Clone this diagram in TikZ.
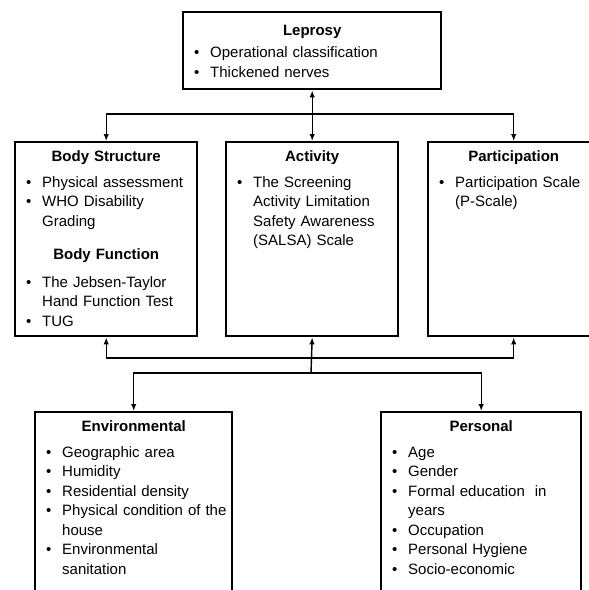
\documentclass[tikz,border=0pt]{standalone}
\usepackage{fontspec}
\setmainfont{Liberation Sans}
\usetikzlibrary{arrows.meta, positioning, calc}
\tikzset{
>={Latex[length=7pt,width=5.5pt]},
frame/.style={%
    rectangle,
    draw=black,
    line width=2.4pt,
    inner sep=0pt,
    anchor=north west
},
txt/.style={%
    anchor=north,
    inner sep=0pt,
    align=left,
    font=\fontsize{15}{19.5}\selectfont
},
link/.style={line width=1.4pt, draw=black},
}
\newcommand{\hd}[2][6.5pt]{\par{\centering\bfseries #2\par}\vspace{#1}}
\newcommand{\bul}[1]{\par\noindent\hangindent=16pt\hangafter=1\makebox[16pt][l]{\textbullet}#1\par}

\begin{document}
\begin{tikzpicture}[x=1pt, y=-1pt]
\useasboundingbox (0,0) rectangle (589,590);

% boxes
\node[frame, minimum width=258pt, minimum height=77pt] (lep) at (182,11) {};
\node[frame, minimum width=182pt, minimum height=194pt] (bs) at (14,141) {};
\node[frame, minimum width=172pt, minimum height=194pt] (act) at (225,141) {};
\node[frame, minimum width=171pt, minimum height=194pt] (part) at (427,141) {};
\node[frame, minimum width=197pt, minimum height=220pt] (env) at (34,411) {};
\node[frame, minimum width=200pt, minimum height=220pt] (pers) at (380,411) {};

% texts
\node[txt, text width=236pt] (lepT) at ([yshift=-4.8pt]lep.north)
    {\hd[2.5pt]{Leprosy}\bul{Operational classification}\bul{Thickened nerves}};
\node[txt, text width=160pt] (bsT) at ([yshift=-0.3pt]bs.north)
    {\hd{Body Structure}\bul{Physical assessment}\bul{WHO Disability\newline Grading}
     \vspace{13.5pt}\hd[8.5pt]{Body Function}
     \bul{The Jebsen-Taylor\newline Hand Function Test}\bul{TUG}};
\node[txt, text width=150pt] (actT) at ([yshift=-0.3pt]act.north)
    {\hd{Activity}\bul{The Screening\newline Activity Limitation\newline Safety Awareness\newline (SALSA) Scale}};
\node[txt, text width=149pt] (partT) at ([yshift=-0.3pt]part.north)
    {\hd{Participation}\bul{Participation Scale\newline (P-Scale)}};
\node[txt, text width=175pt] (envT) at ([yshift=-0.3pt]env.north)
    {\hd{Environmental}\bul{Geographic area}\bul{Humidity}\bul{Residential density}
     \bul{\mbox{Physical condition of the}\newline house}\bul{Environmental\newline sanitation}};
\node[txt, text width=178pt] (persT) at ([yshift=-0.3pt]pers.north)
    {\hd{Personal}\bul{Age}\bul{Gender}\bul{Formal education\ \ in\newline years}
     \bul{Occupation}\bul{Personal Hygiene}\bul{Socio-economic}};

% connectors
\coordinate (hub) at (311,114);
\coordinate (upbus) at (311,358);
\coordinate (lowbus) at (311,373);

\draw[link,<->] (lep.south) -- (act.north);
\draw[link,->] (hub) -| (bs.north);
\draw[link,->] (hub) -| (part.north);

\draw[link,->] (lowbus) -- (act.south);
\draw[link,->] (upbus) -| (bs.south);
\draw[link,->] (upbus) -| (part.south);
\draw[link,->] (lowbus) -| (env.north);
\draw[link,->] (lowbus) -| (pers.north);
\end{tikzpicture}
\end{document}
